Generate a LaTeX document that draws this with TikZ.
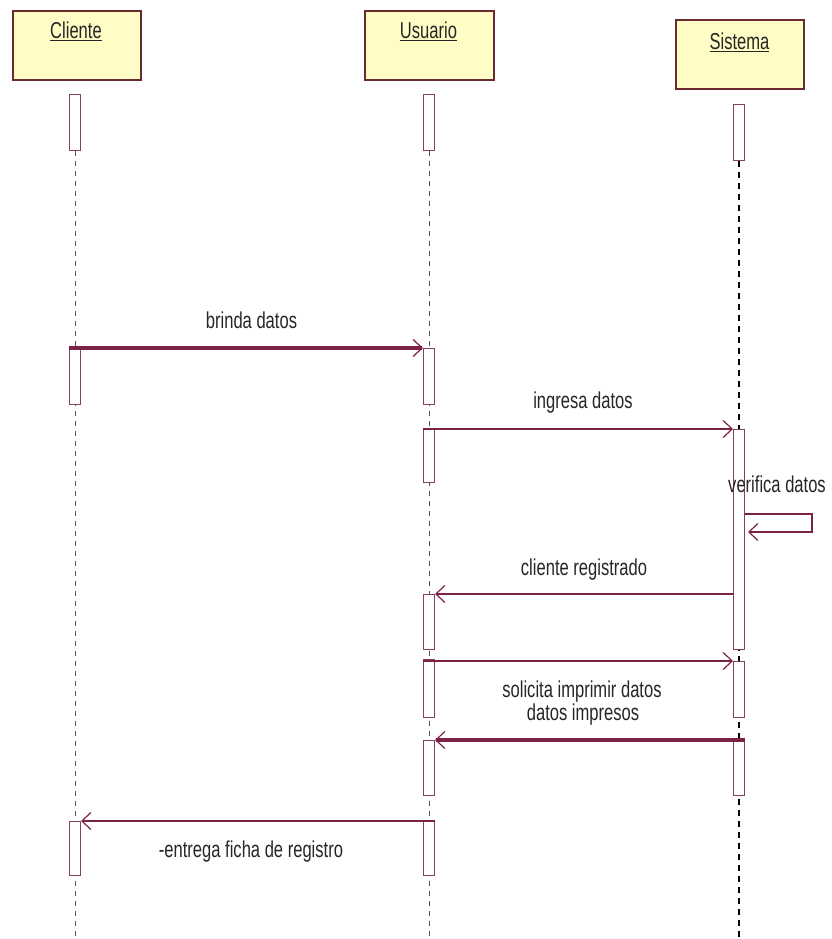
\documentclass[tikz,border=0pt]{standalone}
\usepackage{fontspec}
\setmainfont[FakeStretch=0.72]{Liberation Sans}
\usetikzlibrary{arrows.meta,calc}
\definecolor{boxfill}{HTML}{FFFCC6}
\definecolor{boxline}{HTML}{6A2A30}
\definecolor{msg}{HTML}{7D2247}
\definecolor{actline}{HTML}{84405E}
\definecolor{txt}{HTML}{262626}
\definecolor{lifegray}{HTML}{555555}
\begin{document}
\begin{tikzpicture}[x=1pt,y=-1pt,
  part/.style={draw=boxline, line width=1.6pt, fill=boxfill, minimum height=69pt, inner sep=0pt, anchor=north west},
  ptitle/.style={anchor=base, text=txt, font=\fontsize{23}{26}\selectfont, inner sep=0pt},
  act/.style={draw=actline, line width=1pt, fill=white, minimum width=11pt, inner sep=0pt, anchor=north},
  life/.style={draw=lifegray, line width=0.8pt, dash pattern=on 5pt off 5pt},
  lifedark/.style={draw=black, line width=1.6pt, dash pattern=on 6pt off 5pt},
  msgthin/.style={draw=msg, line width=1.3pt, -{Straight Barb[length=9pt,width=17pt,line width=1.2pt]}},
  msgthick/.style={msgthin, line width=3.5pt},
  selfmsg/.style={msgthin},
  lbl/.style={anchor=base, text=txt, font=\fontsize{23}{26}\selectfont, inner sep=0pt}
]
\useasboundingbox (0,0) rectangle (831,939);

% participants
\node[part, minimum width=128pt] (cl) at (12,10) {};
\node[part, minimum width=129pt] (us) at (364,10) {};
\node[part, minimum width=128pt] (si) at (675,19) {};
\node[ptitle] (clt) at (76,39) {\underline{Cliente}};
\node[ptitle] (ust) at (428.5,39) {\underline{Usuario}};
\node[ptitle] (sit) at (739.5,50) {\underline{Sistema}};

% lifeline ends
\coordinate (clend) at (75,939);
\coordinate (usend) at (429,939);
\coordinate (siend) at (739,939);

% activation bars
\node[act, minimum height=56pt] (c1) at (75,94) {};
\node[act, minimum height=56pt] (u1) at (429,94) {};
\node[act, minimum height=56pt] (s1) at (739,104) {};

\draw[life] (c1.south) -- (clend);
\draw[life] (u1.south) -- (usend);
\draw[lifedark] (s1.south) -- (siend);

\node[act, minimum height=56pt] (c2) at (75,348) {};
\node[act, minimum height=56pt] (u2) at (429,348) {};
\node[act, minimum height=53pt] (u3) at (429,429) {};
\node[act, minimum height=220pt] (s2) at (739,429) {};
\node[act, minimum height=55pt] (u4) at (429,594) {};
\node[act, minimum height=58pt] (u5) at (429,659) {};
\node[act, minimum height=56pt] (s3) at (739,661) {};
\node[act, minimum height=55pt] (u6) at (429,740) {};
\node[act, minimum height=55pt] (s4) at (739,740) {};
\node[act, minimum height=54pt] (c3) at (75,821) {};
\node[act, minimum height=54pt] (u7) at (429,821) {};

% messages
\draw[msgthick] (c2.north west) -- (u2.north west);
\node[lbl] (m1) at (251.5,328) {brinda datos};

\draw[msgthin] (u3.north west) -- (s2.north west);
\node[lbl] (m2) at (583,408) {ingresa datos};

\coordinate (selfA) at ($(s2.north east)+(67,85)$);
\coordinate (selfB) at ($(s2.north east)+(67,103)$);
\coordinate (selfS) at ($(s2.north east)+(0,85)$);
\coordinate (selfE) at ($(s2.north east)+(3,103)$);
\draw[selfmsg] (selfS) -- (selfA) -- (selfB) -- (selfE);
\node[lbl] (m3) at (777,492) {verifica datos};

\coordinate (r1) at ($(s2.north west)+(0,165)$);
\draw[msgthin] (r1) -- (u4.north east);
\node[lbl] (m4) at (584,575) {cliente registrado};

\draw[msgthin] (u5.west |- s3.north) -- (s3.north west);
\node[lbl] (m5) at (582,697) {solicita imprimir datos};

\draw[msgthick] (s4.north east) -- (u6.north east);
\node[lbl] (m6) at (583,720) {datos impresos};

\draw[msgthin] (u7.north east) -- (c3.north east);
\node[lbl] (m7) at (251,857) {-entrega ficha de registro};
\end{tikzpicture}
\end{document}
